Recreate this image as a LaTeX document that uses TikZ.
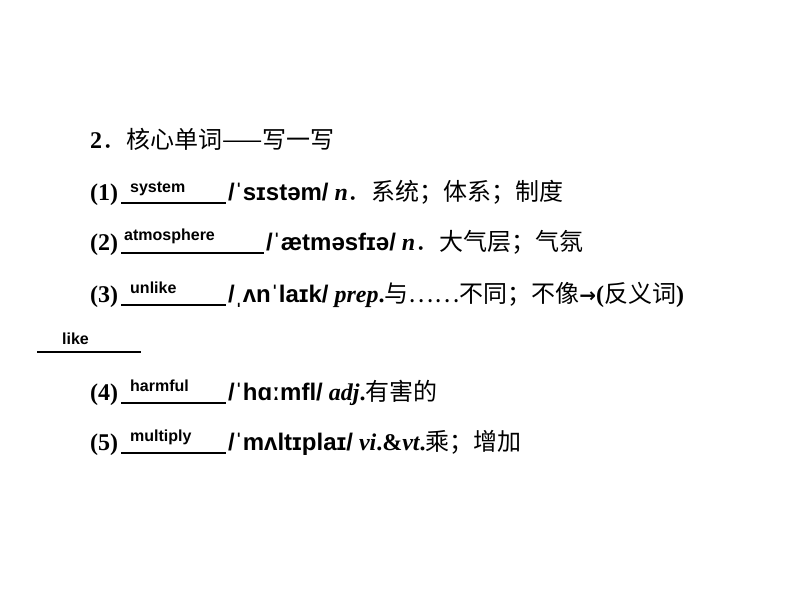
\documentclass[tikz,border=0pt]{standalone}
\usepackage{fontspec}
\setmainfont{Liberation Serif}
\newfontfamily\cjk{Noto Sans CJK SC}
\newfontfamily\ans{Liberation Sans}
\newfontfamily\dvs{DejaVu Sans}
\begin{document}
\begin{tikzpicture}[x=1pt,y=-1pt,
  txt/.style={anchor=base west,inner sep=0pt,font=\fontsize{24}{26}\selectfont},
  answ/.style={anchor=base west,inner sep=0pt,font=\ans\bfseries\fontsize{16}{18}\selectfont},
  uline/.style={line width=2pt}]
\useasboundingbox (0,0) rectangle (794,596);
\node[txt] (t0) at (90,149) {\textbf{2}{\cjk ．核心单词——写一写}};
% line 1
\node[txt] (n1) at (90,200) {\textbf{(1)}};
\draw[uline] (121,203) -- (226,203);
\node[answ] (a1) at (130,192) {system};
\node[txt] (p1) at (228,200) {{\ans\bfseries /ˈsɪstəm/} \textbf{\textit{n}}{\cjk ．系统；体系；制度}};
% line 2
\node[txt] (n2) at (90,250) {\textbf{(2)}};
\draw[uline] (121,253) -- (264,253);
\node[answ] (a2) at (124,240) {atmosphere};
\node[txt] (p2) at (266,250) {{\ans\bfseries /ˈætməsfɪə/} \textbf{\textit{n}}{\cjk ．大气层；气氛}};
% line 3
\node[txt] (n3) at (90,302) {\textbf{(3)}};
\draw[uline] (121,305) -- (226,305);
\node[answ] (a3) at (130,293) {unlike};
\node[txt] (p3) at (228,302) {{\ans\bfseries /ˌʌnˈlaɪk/} \textbf{\textit{prep}.}{\cjk 与……不同；不像}{\dvs\bfseries\fontsize{20}{20}\selectfont →}\textbf{(}{\cjk 反义词}\textbf{)}};
% like
\draw[uline] (37,352) -- (141,352);
\node[answ] (a4) at (62,344) {like};
% line 4
\node[txt] (n4) at (90,400) {\textbf{(4)}};
\draw[uline] (121,403) -- (226,403);
\node[answ] (a5) at (130,391) {harmful};
\node[txt] (p4) at (228,400) {{\ans\bfseries /ˈhɑːmfl/} \textbf{\textit{adj}.}{\cjk 有害的}};
% line 5
\node[txt] (n5) at (90,450) {\textbf{(5)}};
\draw[uline] (121,453) -- (226,453);
\node[answ] (a6) at (130,441) {multiply};
\node[txt] (p5) at (228,450) {{\ans\bfseries /ˈmʌltɪplaɪ/} \textbf{\textit{vi}.\&\textit{vt}.}{\cjk 乘；增加}};
\end{tikzpicture}
\end{document}
